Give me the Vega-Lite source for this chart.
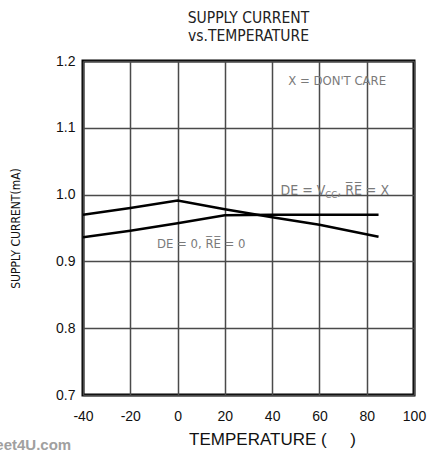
{
  "$schema": "https://vega.github.io/schema/vega-lite/v6.json",
  "width": 331,
  "height": 334,
  "autosize": {"type": "none"},
  "padding": {"left": 83, "top": 61, "right": 17, "bottom": 59},
  "background": "white",
  "title": {
    "text": ["SUPPLY CURRENT", "vs.TEMPERATURE"],
    "font": "DejaVu Sans Condensed, DejaVu Sans, sans-serif",
    "fontSize": 15.5,
    "fontWeight": "normal",
    "color": "#222222",
    "anchor": "middle",
    "lineHeight": 18,
    "offset": 10
  },
  "config": {
    "view": {"stroke": "black", "strokeWidth": 3},
    "axis": {
      "domain": false,
      "ticks": false,
      "grid": true,
      "gridColor": "#4a4a4a",
      "gridWidth": 1.5,
      "labelFont": "Liberation Sans",
      "labelFontSize": 14,
      "labelColor": "#111111",
      "titleFontWeight": "normal",
      "titleColor": "#111111"
    }
  },
  "datasets": {
    "curves": [
      {"series": "DE=VCC", "temp": -40, "current": 0.970},
      {"series": "DE=VCC", "temp": -20, "current": 0.980},
      {"series": "DE=VCC", "temp": 0, "current": 0.991},
      {"series": "DE=VCC", "temp": 20, "current": 0.978},
      {"series": "DE=VCC", "temp": 40, "current": 0.966},
      {"series": "DE=VCC", "temp": 60, "current": 0.955},
      {"series": "DE=VCC", "temp": 85, "current": 0.937},
      {"series": "DE=0", "temp": -40, "current": 0.936},
      {"series": "DE=0", "temp": -20, "current": 0.946},
      {"series": "DE=0", "temp": 0, "current": 0.957},
      {"series": "DE=0", "temp": 20, "current": 0.969},
      {"series": "DE=0", "temp": 40, "current": 0.970},
      {"series": "DE=0", "temp": 85, "current": 0.970}
    ],
    "notes": [
      {"temp": 67.5, "current": 1.17, "label": "X = DON'T CARE"},
      {"temp": 10, "current": 0.926, "label": "DE = 0, R̅E̅ = 0"}
    ],
    "leftPart": [
      {"temp": 62.5, "current": 1.005, "label": "DE = V"}
    ],
    "rightPart": [
      {"temp": 67.5, "current": 1.005, "label": ", R̅E̅ = X"}
    ],
    "subs": [
      {"temp": 62.5, "current": 0.999, "label": "CC"}
    ],
    "mark": [
      {"temp": -45, "current": 0.617, "label": "www.DataSheet4U.com"}
    ]
  },
  "layer": [
    {
      "data": {"name": "curves"},
      "mark": {"type": "line", "color": "black", "strokeWidth": 2.5, "clip": true},
      "encoding": {
        "x": {
          "field": "temp", "type": "quantitative",
          "scale": {"domain": [-40, 100], "nice": false},
          "axis": {
            "values": [-40, -20, 0, 20, 40, 60, 80, 100],
            "labelExpr": "'' + datum.value",
            "labelPadding": 14,
            "labelFlush": false,
            "labelFontSize": 14,
            "title": "TEMPERATURE (\u00a0\u00a0\u00a0\u00a0\u00a0)",
            "titleFont": "Liberation Sans",
            "titleFontSize": 17,
            "titleX": 189,
            "titleY": 49,
            "titleAlign": "center",
            "titleBaseline": "alphabetic"
          }
        },
        "y": {
          "field": "current", "type": "quantitative",
          "scale": {"domain": [0.7, 1.2], "nice": false, "zero": false},
          "axis": {
            "values": [0.7, 0.8, 0.9, 1.0, 1.1, 1.2],
            "format": ".1f",
            "labelPadding": 8,
            "labelFlush": false,
            "title": "SUPPLY CURRENT(mA)",
            "titleFont": "DejaVu Sans Condensed, DejaVu Sans, sans-serif",
            "titleFontSize": 12,
            "titleAngle": -90,
            "titleX": -68,
            "titleY": 167,
            "titleAlign": "center",
            "titleBaseline": "middle"
          }
        },
        "detail": {"field": "series"}
      }
    },
    {
      "data": {"name": "notes"},
      "mark": {"type": "text", "font": "DejaVu Sans Condensed, DejaVu Sans, sans-serif", "fontSize": 13, "color": "#7a7a7a", "baseline": "middle", "align": "center"},
      "encoding": {
        "x": {"field": "temp", "type": "quantitative"},
        "y": {"field": "current", "type": "quantitative"},
        "text": {"field": "label"}
      }
    },
    {
      "data": {"name": "leftPart"},
      "mark": {"type": "text", "font": "DejaVu Sans Condensed, DejaVu Sans, sans-serif", "fontSize": 14, "color": "#7a7a7a", "baseline": "middle", "align": "right"},
      "encoding": {
        "x": {"field": "temp", "type": "quantitative"},
        "y": {"field": "current", "type": "quantitative"},
        "text": {"field": "label"}
      }
    },
    {
      "data": {"name": "rightPart"},
      "mark": {"type": "text", "font": "DejaVu Sans Condensed, DejaVu Sans, sans-serif", "fontSize": 14, "color": "#7a7a7a", "baseline": "middle", "align": "left"},
      "encoding": {
        "x": {"field": "temp", "type": "quantitative"},
        "y": {"field": "current", "type": "quantitative"},
        "text": {"field": "label"}
      }
    },
    {
      "data": {"name": "subs"},
      "mark": {"type": "text", "font": "DejaVu Sans Condensed, DejaVu Sans, sans-serif", "fontSize": 9.5, "color": "#7a7a7a", "baseline": "middle", "align": "left"},
      "encoding": {
        "x": {"field": "temp", "type": "quantitative"},
        "y": {"field": "current", "type": "quantitative"},
        "text": {"field": "label"}
      }
    },
    {
      "data": {"name": "mark"},
      "mark": {"type": "text", "font": "Liberation Sans", "fontSize": 15, "fontWeight": "bold", "color": "#a0a0a0", "baseline": "alphabetic", "align": "right", "clip": false},
      "encoding": {
        "x": {"field": "temp", "type": "quantitative"},
        "y": {"field": "current", "type": "quantitative"},
        "text": {"field": "label"}
      }
    }
  ]
}
